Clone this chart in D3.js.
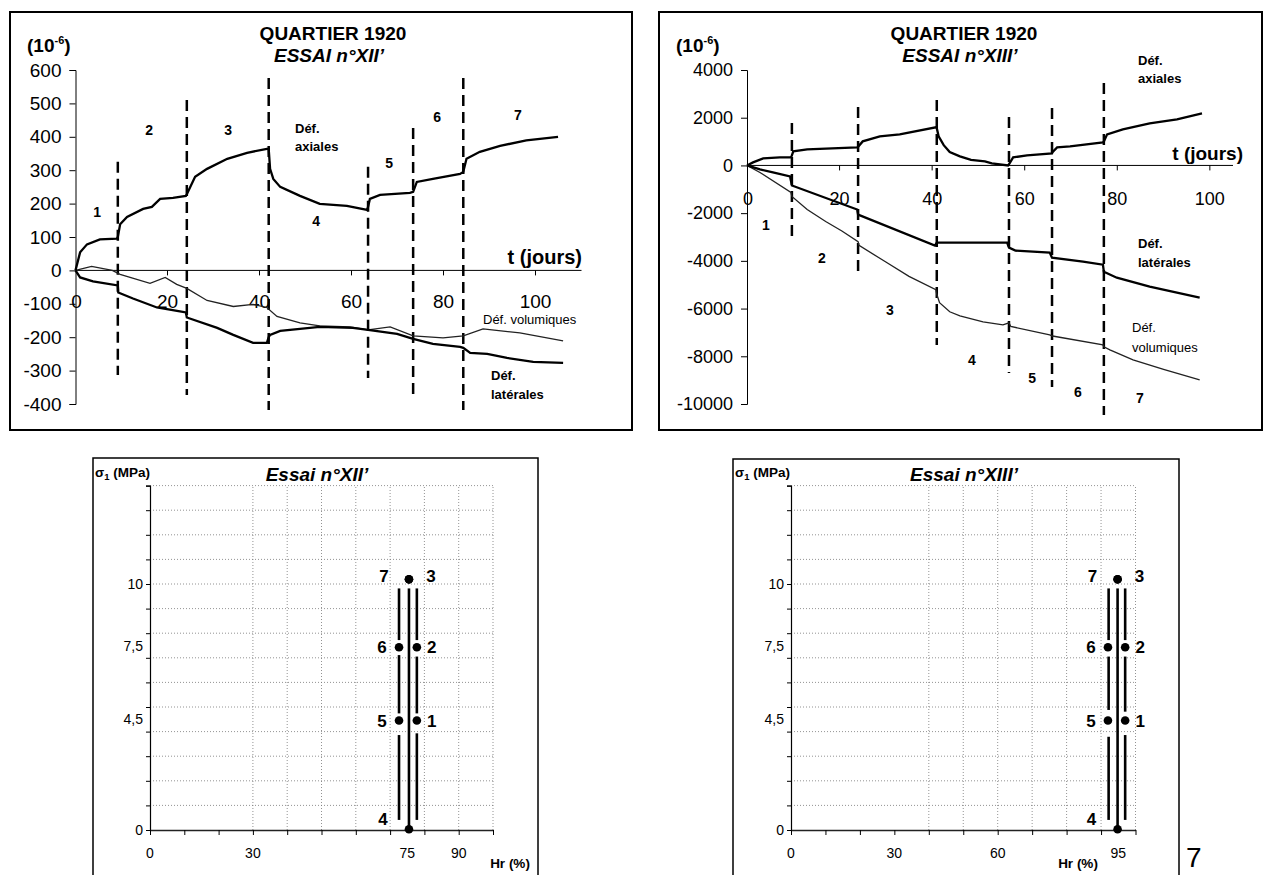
<!DOCTYPE html>
<html><head><meta charset="utf-8">
<script src="https://cdn.jsdelivr.net/npm/d3@7"></script>
<style>body{margin:0;background:#fff} text{font-family:"Liberation Sans",Arial,Helvetica,sans-serif;fill:#000}</style>
</head><body><svg id="c" width="1267" height="875"></svg>
<script>
// ---------- DATA: Essai XII' (top-left) ----------
const tlYTicks = [600,500,400,300,200,100,0,-100,-200,-300,-400];
const tlXTicks = [0,20,40,60,80,100];
const tlAxial = [[0,0],[1,54],[2.5,78],[5.3,93],[9,95],[9.2,100],[9.7,138],[11.2,160],[14.7,184],[16.6,190],[18.4,214],[21.2,217],[24,223],[24.2,228],[26,280],[28.6,304],[33,334],[37.3,352],[41.6,364],[42,364],[42.3,304],[43,274],[44.5,250],[48.8,223],[53.1,199],[59,193],[63.4,181],[63.6,190],[64,214],[66.2,226],[72.7,232],[73.4,235],[74.2,265],[77.7,274],[83.6,289],[84.3,295],[85,334],[87.9,355],[92.3,373],[98,389],[104.9,400]];
const tlVol = [[0,0],[3.5,12],[8,0],[9.7,-12],[16.2,-39],[19.5,-21],[22,-42],[24.2,-54],[28.6,-90],[34.3,-108],[38.6,-102],[41.6,-111],[43.8,-138],[48.8,-157],[53.1,-166],[59.7,-169],[63.6,-178],[68.4,-169],[73.4,-196],[79.9,-202],[84.3,-196],[88.6,-175],[96.6,-187],[106,-211]];
const tlLat = [[0,0],[1,-21],[3.8,-33],[9.2,-45],[9.3,-66],[12.5,-84],[17.7,-111],[22.7,-123],[24,-126],[24.2,-141],[30.8,-172],[34.3,-193],[38.6,-217],[41.6,-217],[42,-200],[42.3,-193],[44.5,-181],[48.8,-175],[53.1,-169],[60.3,-172],[63.6,-178],[69.9,-190],[73.4,-205],[77.7,-220],[83.6,-229],[84.3,-232],[85.8,-247],[89.5,-250],[93.8,-262],[99.5,-274],[106,-277]];
const tlPhaseT = [9.2,24.2,42,63.6,73.4,84.3];
const tlPhaseTop = [325,510,576,310,426,576];
const tlPhaseBot = [-313,-373,-418,-322,-373,-418];
const tlPhaseLabels = [["1",4.7,175],["2",16,420],["3",33.2,420],["4",52.3,147],["5",68.2,321],["6",78.6,459],["7",96.2,465]];

// ---------- DATA: Essai XIII' (top-right) ----------
const trYTicks = [4000,2000,0,-2000,-4000,-6000,-8000,-10000];
const trXTicks = [0,20,40,60,80,100];
const trAxial = [[0,0],[1.3,126],[3.5,294],[7.1,336],[9.5,340],[9.7,420],[10,588],[13,672],[23.8,756],[24,780],[25,1008],[28.7,1218],[33,1303],[40.8,1597],[41,1560],[41.4,1218],[42.5,850],[43.8,560],[46,380],[48.4,230],[51.4,168],[52.9,84],[56.4,0],[56.6,50],[57.5,336],[60.5,420],[65.9,504],[66,560],[67,756],[69.8,798],[76.9,966],[77.1,1000],[77.8,1303],[81.2,1512],[87,1765],[92.9,1933],[98.3,2185]];
const trLat = [[0,0],[2.8,-168],[5.6,-294],[9.3,-462],[9.7,-840],[23.8,-1849],[24,-2059],[40.6,-3361],[41,-3235],[56.2,-3235],[56.6,-3445],[58,-3571],[65.4,-3655],[65.9,-3865],[72.6,-4034],[76.9,-4160],[77.1,-4454],[79.9,-4706],[87,-5084],[97.8,-5546]];
const trVol = [[0,0],[2.8,-294],[9.5,-1134],[9.7,-1300],[13,-1849],[17,-2350],[20.5,-2750],[24,-3193],[24.2,-3350],[30,-4050],[35,-4650],[40.8,-5210],[41,-5400],[41.6,-5756],[43.8,-6134],[46,-6303],[51,-6555],[55.3,-6681],[56.6,-6597],[57,-6750],[65.4,-7101],[66,-7150],[76.9,-7521],[77.1,-7600],[78.4,-7731],[83.4,-8151],[90,-8550],[97.8,-8992]];
const trPhaseT = [9.7,24,41,56.6,65.9,77.1];
const trPhaseTop = [1777,2448,2741,2029,2406,3454];
const trPhaseBot = [-3043,-4636,-7528,-8702,-9289,-10462];
const trPhaseLabels = [["1",4.1,-2498],["2",16.2,-3881],["3",30.9,-6061],["4",48.6,-8157],["5",61.6,-8911],["6",71.5,-9498],["7",84.9,-9750]];

// ---------- DATA: sigma1 / Hr paths (bottom) ----------
const sYTickLabels = [[0,"0"],[4.5,"4,5"],[7.5,"7,5"],[10,"10"]];
const blXTickLabels = [[0,"0"],[30,"30"],[75,"75"],[90,"90"]];
const brXTickLabels = [[0,"0"],[30,"30"],[60,"60"],[95,"95"]];
const blGridX = [30,40,50,60,70,80,90,100];
const brGridX = [40,50,60,70,80,90,100];
const phaseNames = ["1","2","3","4","5","6","7"];
const blHr = [77.8,77.8,75.5,75.5,72.6,72.6,75.5];
const brHr = [97.0,97.0,94.8,94.8,92.0,92.0,94.8];
const sigma = [4.45,7.43,10.19,0.03,4.45,7.43,10.19];
// vertical path segments: Hr, sigma from, sigma to
const blPaths = [[72.6,9.82,7.72],[72.6,7.11,4.74],[72.6,3.86,0.41],[75.5,9.82,0.07],[77.8,9.82,7.72],[77.8,7.05,4.74],[77.8,3.93,0.41]];
const brPaths = [[92.2,9.82,7.72],[92.2,7.05,4.88],[92.2,3.79,0.41],[94.8,9.82,0.07],[97.0,9.82,7.72],[97.0,7.05,4.81],[97.0,3.86,0.41]];

const svg = d3.select("#c");

function topPanel(o){
  const g = svg.append("g");
  g.append("rect").attr("x",o.frame[0]).attr("y",o.frame[1]).attr("width",o.frame[2]-o.frame[0]).attr("height",o.frame[3]-o.frame[1])
    .attr("fill","none").attr("stroke","#000").attr("stroke-width",2);
  const x = d3.scaleLinear().domain(o.xDom).range(o.xRange);
  const y = d3.scaleLinear().domain(o.yDom).range(o.yRange);
  const ya = g.append("g").attr("transform",`translate(${x(0)},0)`)
    .call(d3.axisLeft(y).tickValues(o.yTicks).tickSize(6).tickPadding(8).tickFormat(d=>String(d)));
  ya.select(".domain").attr("stroke","#000").attr("stroke-width",1);
  ya.selectAll("text").attr("font-size",o.fs).style("font-family","Liberation Sans, Arial");
  g.append("line").attr("x1",x(0)).attr("x2",x(o.xDom[1])).attr("y1",y(0)).attr("y2",y(0)).attr("stroke","#000").attr("stroke-width",1);
  g.selectAll(".xt").data(o.xTicks.filter(d=>d>0)).join("line")
    .attr("x1",d=>x(d)).attr("x2",d=>x(d)).attr("y1",y(0)).attr("y2",y(0)+5).attr("stroke","#000");
  g.selectAll(".xl").data(o.xTicks).join("text")
    .attr("x",d=>x(d)+(d===0?1:0)).attr("y",y(0)+o.xlOff).attr("text-anchor","middle").attr("font-size",o.fs).text(d=>d);
  g.selectAll(".ph").data(o.phT).join("line")
    .attr("x1",d=>x(d)).attr("x2",d=>x(d)).attr("y1",(d,i)=>y(o.phTop[i])).attr("y2",(d,i)=>y(o.phBot[i]))
    .attr("stroke","#000").attr("stroke-width",2.5).attr("stroke-dasharray","11,6");
  const line = d3.line().x(d=>x(d[0])).y(d=>y(d[1]));
  g.append("path").attr("d",line(o.vol)).attr("fill","none").attr("stroke","#222").attr("stroke-width",1.3);
  g.append("path").attr("d",line(o.lat)).attr("fill","none").attr("stroke","#000").attr("stroke-width",2.3);
  g.append("path").attr("d",line(o.ax)).attr("fill","none").attr("stroke","#000").attr("stroke-width",2.3);
  g.selectAll(".pl").data(o.phL).join("text").attr("x",d=>x(d[1])).attr("y",d=>y(d[2])+5)
    .attr("text-anchor","middle").attr("font-size",14).attr("font-weight","bold").text(d=>d[0]);
  g.append("text").attr("x",o.tx).attr("y",40).attr("text-anchor","middle").attr("font-size",19).attr("font-weight","bold").text("QUARTIER 1920");
  g.append("text").attr("x",o.tx-4).attr("y",62).attr("text-anchor","middle").attr("font-size",19).attr("font-weight","bold").attr("font-style","italic").text(o.essai);
  const u = g.append("text").attr("x",o.ux).attr("y",52).attr("font-size",19).attr("font-weight","bold");
  u.append("tspan").text("(10");
  u.append("tspan").attr("dy",-8).attr("font-size",11).text("-6");
  u.append("tspan").attr("dy",8).text(")");
  o.notes.forEach(n=>{
    g.append("text").attr("x",n[0]).attr("y",n[1]).attr("font-size",n[3]).attr("font-weight",n[4]).attr("text-anchor",n[5]||"start").text(n[2]);
  });
}

topPanel({frame:[10,12,632,430], xDom:[0,110], xRange:[75.5,581.5], yDom:[-400,600], yRange:[404,70],
  yTicks:tlYTicks, xTicks:tlXTicks, fs:19, xlOff:38, ax:tlAxial, lat:tlLat, vol:tlVol,
  phT:tlPhaseT, phTop:tlPhaseTop, phBot:tlPhaseBot, phL:tlPhaseLabels, tx:333, ux:27, essai:"ESSAI n°XII’",
  notes:[[295,133,"Déf.",13,"bold"],[295,151,"axiales",13,"bold"],[582,264,"t (jours)",20,"bold","end"],
         [483,324,"Déf. volumiques",13,"normal"],[491,380,"Déf.",13,"bold"],[491,399,"latérales",13,"bold"]]});

topPanel({frame:[659,12,1262,430], xDom:[0,105], xRange:[747,1233], yDom:[-10000,4000], yRange:[404,70],
  yTicks:trYTicks, xTicks:trXTicks, fs:18, xlOff:40, ax:trAxial, lat:trLat, vol:trVol,
  phT:trPhaseT, phTop:trPhaseTop, phBot:trPhaseBot, phL:trPhaseLabels, tx:964, ux:676, essai:"ESSAI n°XIII’",
  notes:[[1138,65,"Déf.",13,"bold"],[1138,83,"axiales",13,"bold"],[1243,160,"t (jours)",19,"bold","end"],
         [1138,248,"Déf.",13,"bold"],[1138,267,"latérales",13,"bold"],
         [1132,332,"Déf.",13,"normal"],[1132,352,"volumiques",13,"normal"]]});

function bottomPanel(o){
  const g = svg.append("g");
  g.append("rect").attr("x",o.frame[0]).attr("y",o.frame[1]).attr("width",o.frame[2]-o.frame[0]).attr("height",900-o.frame[1])
    .attr("fill","none").attr("stroke","#000").attr("stroke-width",1.5);
  const x = d3.scaleLinear().domain([0,100]).range(o.xRange);
  const y = d3.scaleLinear().domain([0,14]).range([830,485.6]);
  g.selectAll(".gh").data(d3.range(1,15)).join("line").attr("x1",x(0)).attr("x2",x(100)).attr("y1",d=>y(d)).attr("y2",d=>y(d))
    .attr("stroke","#777").attr("stroke-width",0.8).attr("stroke-dasharray","1,2");
  g.selectAll(".gv").data(o.gridX).join("line").attr("x1",d=>x(d)).attr("x2",d=>x(d)).attr("y1",y(0)).attr("y2",y(14))
    .attr("stroke","#777").attr("stroke-width",0.8).attr("stroke-dasharray","1,2");
  const ya = g.append("g").attr("transform",`translate(${x(0)},0)`).call(d3.axisLeft(y).ticks(14).tickSize(4).tickFormat(""));
  ya.select(".domain").attr("stroke","#000").attr("stroke-width",1.2);
  const xa = g.append("g").attr("transform",`translate(0,${y(0)})`).call(d3.axisBottom(x).ticks(10).tickSizeInner(5).tickSizeOuter(0).tickFormat(""));
  xa.select(".domain").attr("stroke","#222").attr("stroke-width",1.6);
  g.selectAll(".yl").data(sYTickLabels).join("text").attr("x",x(0)-7).attr("y",d=>y(d[0])+5).attr("text-anchor","end")
    .attr("font-size",14).text(d=>d[1]);
  g.selectAll(".xl").data(o.xLabels).join("text").attr("x",d=>x(d[0])).attr("y",858).attr("text-anchor","middle")
    .attr("font-size",14).text(d=>d[1]);
  g.selectAll(".pa").data(o.paths).join("line").attr("x1",d=>x(d[0])).attr("x2",d=>x(d[0])).attr("y1",d=>y(d[1])).attr("y2",d=>y(d[2]))
    .attr("stroke","#000").attr("stroke-width",2.6);
  g.selectAll(".pt").data(o.hr).join("circle").attr("cx",d=>x(d)).attr("cy",(d,i)=>y(sigma[i])).attr("r",4.3).attr("fill","#000");
  const off = [[15,0],[15,0],[22,-3],[-26,-10],[-17,0],[-17,0],[-25,-3]];
  g.selectAll(".pn").data(phaseNames).join("text").attr("x",(d,i)=>x(o.hr[i])+off[i][0]).attr("y",(d,i)=>y(sigma[i])+off[i][1]+6)
    .attr("text-anchor","middle").attr("font-size",17).attr("font-weight","bold").text(d=>d);
  g.append("text").attr("x",o.tx).attr("y",481).attr("text-anchor","middle").attr("font-size",19).attr("font-weight","bold").attr("font-style","italic").text(o.title);
  const s = g.append("text").attr("x",o.frame[0]+2).attr("y",477).attr("font-size",13.5).attr("font-weight","bold");
  s.append("tspan").text("σ");
  s.append("tspan").attr("font-size",9.5).attr("dy",3).text("1");
  s.append("tspan").attr("dy",-3).text(" (MPa)");
  g.append("text").attr("x",o.hrx).attr("y",868).attr("text-anchor","middle").attr("font-size",13.5).attr("font-weight","bold").text("Hr (%)");
}

bottomPanel({frame:[93,458,538], xRange:[150,493], gridX:blGridX, xLabels:blXTickLabels, paths:blPaths, hr:blHr, tx:317, title:"Essai n°XII’", hrx:510});
bottomPanel({frame:[733,459,1179], xRange:[791,1135.5], gridX:brGridX, xLabels:brXTickLabels, paths:brPaths, hr:brHr, tx:964, title:"Essai n°XIII’", hrx:1078});

svg.append("text").attr("x",1186).attr("y",867).attr("font-size",28).text("7");
</script></body></html>
